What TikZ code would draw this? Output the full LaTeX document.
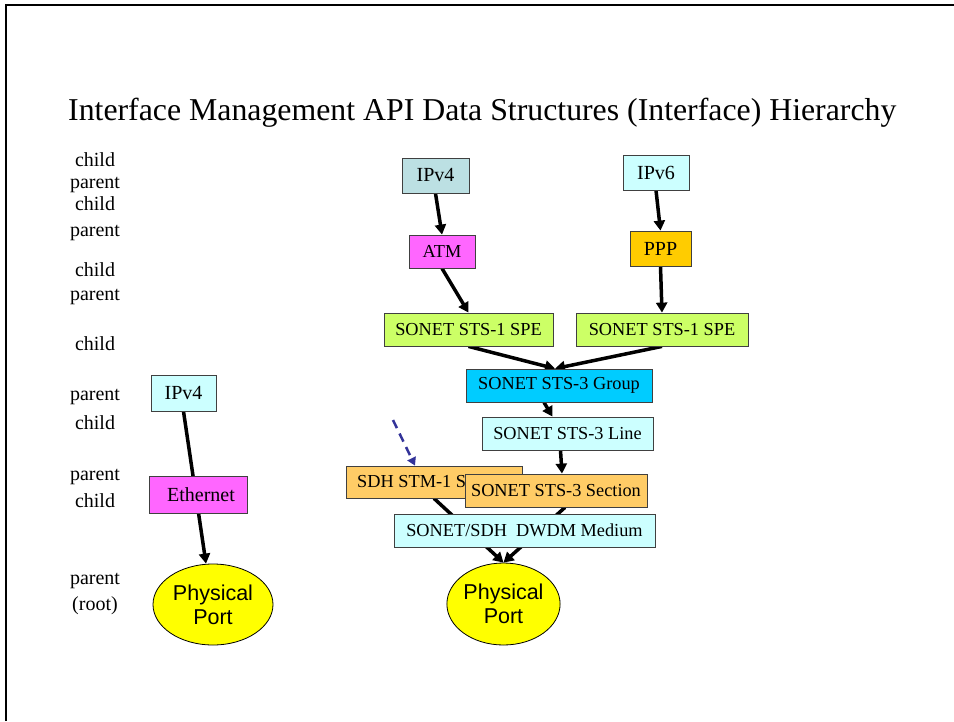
\documentclass[tikz,border=0pt]{standalone}
\usepackage{fontspec}
\setmainfont{Liberation Serif}
\newfontfamily\arialf{Liberation Sans}
\usetikzlibrary{shapes.geometric,arrows.meta,backgrounds}
\definecolor{cgray}{RGB}{188,224,227}
\definecolor{ccyan}{RGB}{204,255,255}
\definecolor{cmag}{RGB}{255,102,255}
\definecolor{cgold}{RGB}{255,204,0}
\definecolor{clime}{RGB}{204,255,102}
\definecolor{cblue}{RGB}{0,204,255}
\definecolor{corange}{RGB}{255,204,102}
\definecolor{cyel}{RGB}{255,255,0}
\definecolor{cdash}{RGB}{51,51,153}
\begin{document}
\begin{tikzpicture}[x=1pt,y=-1pt,
 box/.style={draw=black!75,line width=0.8pt,inner sep=0pt,font=\fontsize{18.3}{20}\selectfont},
 bigbox/.style={box,font=\fontsize{20}{22}\selectfont},
 port/.style={ellipse,draw=black,line width=0.8pt,fill=cyel,inner sep=0pt,align=center,font=\arialf\fontsize{21.5}{24}\selectfont},
 lbl/.style={anchor=base,font=\fontsize{20}{22}\selectfont,inner sep=0pt},
 conn/.style={line width=3.5pt,-{Triangle[length=10pt,width=11pt]}},
 dconn/.style={line width=2.5pt,color=cdash,dash pattern=on 9pt off 6pt,-{Triangle[length=8pt,width=9pt]}},
]
\useasboundingbox (0,0) rectangle (954,721);
\draw[line width=2pt] (6,721) -- (6,5) -- (954,5);

\node[anchor=base west,inner sep=0pt,font=\fontsize{31.8}{36}\selectfont] (title) at (68,120) {Interface Management API Data Structures (Interface) Hierarchy};

% left labels
\node[lbl] (l1) at (95,166) {child};
\node[lbl] (l2) at (95,188) {parent};
\node[lbl] (l3) at (95,210) {child};
\node[lbl] (l4) at (95,236) {parent};
\node[lbl] (l5) at (95,276) {child};
\node[lbl] (l6) at (95,300) {parent};
\node[lbl] (l7) at (95,350) {child};
\node[lbl] (l8) at (95,400) {parent};
\node[lbl] (l9) at (95,429) {child};
\node[lbl] (l10) at (95,480) {parent};
\node[lbl] (l11) at (95,507) {child};
\node[lbl] (l12) at (95,584) {parent};
\node[lbl] (l13) at (95,610) {(root)};

% right tree
\node[bigbox,fill=cgray,minimum width=67pt,minimum height=35pt] (ipva) at (435.5,175.5) {IPv4};
\node[bigbox,fill=ccyan,minimum width=66pt,minimum height=35pt] (ipv6) at (656,172.5) {IPv6};
\node[box,fill=cmag,minimum width=66pt,minimum height=33pt] (atm) at (442,251.5) {ATM};
\node[bigbox,fill=cgold,minimum width=61pt,minimum height=35pt] (ppp) at (660.5,248.5) {PPP};
\node[box,fill=clime,minimum width=169pt,minimum height=33pt] (spea) at (468.5,329.5) {SONET STS-1 SPE};
\node[box,fill=clime,minimum width=172pt,minimum height=33pt] (speb) at (662,329.5) {SONET STS-1 SPE};
\node[box,fill=cblue,minimum width=186pt,minimum height=33pt] (grp) at (559,385.5) {SONET STS-3 Group};
\node[box,fill=ccyan,minimum width=171pt,minimum height=33pt] (line) at (567.5,433.5) {SONET STS-3 Line};
\node[box,fill=corange,minimum width=176pt,minimum height=32pt] (sdh) at (434,482) {SDH STM-1 Section};
\node[box,fill=corange,minimum width=182pt,minimum height=33pt] (sec) at (556,490.5) {SONET STS-3 Section};
\node[box,fill=ccyan,minimum width=261pt,minimum height=33pt] (dwdm) at (524.5,530.5) {SONET/SDH\ \ DWDM Medium};
\node[port,minimum width=113pt,minimum height=82pt] (portb) at (503.5,604) {Physical\\Port};

% left tree
\node[bigbox,fill=ccyan,minimum width=65pt,minimum height=36pt] (ipvb) at (183.5,393) {IPv4};
\node[bigbox,fill=cmag,minimum width=98pt,minimum height=37pt] (eth) at (198,494.5) {\hspace*{6pt}Ethernet};
\node[port,minimum width=120pt,minimum height=81pt] (porta) at (213,604.5) {Physical\\Port};

\coordinate (dstart) at (393,420);

\begin{scope}[on background layer]
\draw[conn] (ipva.south) -- (atm.north);
\draw[conn] (ipv6.south) -- (ppp.north);
\draw[conn] (atm.south) -- (spea.north);
\draw[conn] (ppp.south) -- (speb.north);
\draw[conn] (spea.south) -- ([xshift=-4pt]grp.north);
\draw[conn] (speb.south) -- ([xshift=-4pt]grp.north);
\draw[conn] ([xshift=-15pt]grp.south) -- ([xshift=-15pt]line.north);
\draw[conn] ([xshift=-7pt]line.south) -- ([xshift=6pt]sec.north);
\draw[conn] (sdh.south) -- (portb.north);
\draw[conn] ([xshift=9pt]sec.south) -- (portb.north);
\draw[conn] (ipvb.south) -- ([xshift=-7pt]porta.north);
\end{scope}
\draw[dconn] (dstart) -- ([xshift=-19pt]sdh.north);
\end{tikzpicture}
\end{document}
